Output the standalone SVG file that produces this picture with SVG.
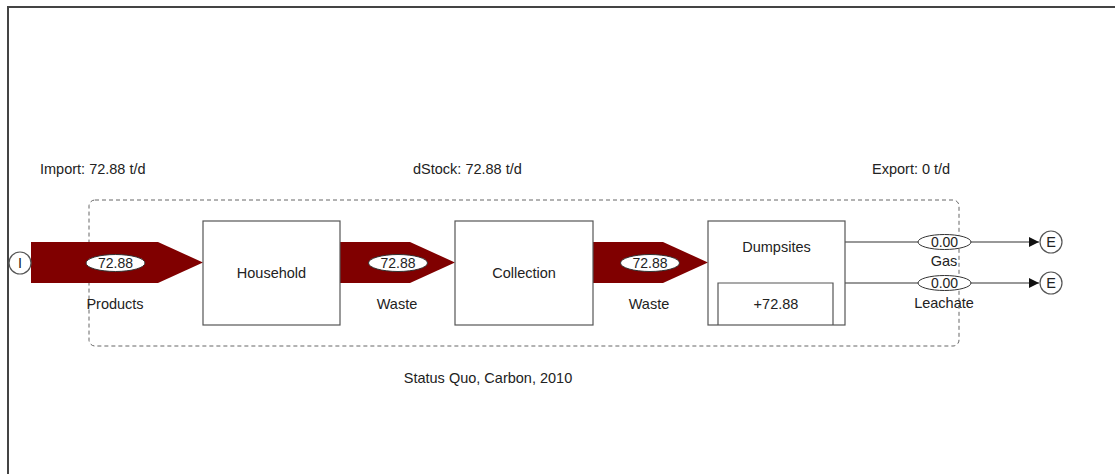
<svg xmlns="http://www.w3.org/2000/svg" width="1115" height="474" viewBox="0 0 1115 474">
<defs>
<style>
text{font-family:"Liberation Sans",Arial,sans-serif;font-size:14.5px;fill:#222;text-anchor:middle}
.lbl{text-anchor:start}
.v{font-size:14px}
.box{fill:#fff;stroke:#555;stroke-width:1.2}
.flow{fill:#800000;stroke:none}
.val{fill:#fff;stroke:#333;stroke-width:1}
.line{stroke:#333;stroke-width:1.2;fill:none}
.term{fill:#fff;stroke:#555;stroke-width:1.2}
</style>
<marker id="arr" viewBox="0 0 10 10" refX="10" refY="5" markerWidth="10" markerHeight="10" markerUnits="userSpaceOnUse" orient="auto">
<path d="M0,0 L10,5 L0,10 Z" fill="#111"/>
</marker>
</defs>
<rect width="1115" height="474" fill="#fff"/>
<path d="M8,474 L8,7 L1115,7" fill="none" stroke="#444" stroke-width="2"/>
<g id="texts">
<text class="lbl" x="40" y="174">Import: 72.88 t/d</text>
<text class="lbl" x="413" y="174">dStock: 72.88 t/d</text>
<text class="lbl" x="872" y="174">Export: 0 t/d</text>
<text x="488" y="383">Status Quo, Carbon, 2010</text>
</g>
<g id="boundary">
<rect x="89" y="200" width="870" height="146" rx="6" ry="6" fill="none" stroke="#666" stroke-width="1" stroke-dasharray="4,3"/>
</g>
<g id="connectors">
<g id="flow-products">
<path class="flow" d="M31,242 L158,242 L203,262.5 L158,283 L31,283 Z"/>
<ellipse class="val" cx="115.5" cy="263" rx="29.5" ry="8.5"/>
<text class="v" x="115.5" y="268">72.88</text>
<text x="115" y="309">Products</text>
</g>
<g id="flow-waste1">
<path class="flow" d="M340,242 L410,242 L455,262.5 L410,283 L340,283 Z"/>
<ellipse class="val" cx="398" cy="263" rx="29.5" ry="8.5"/>
<text class="v" x="398" y="268">72.88</text>
<text x="397" y="309">Waste</text>
</g>
<g id="flow-waste2">
<path class="flow" d="M593,242 L663,242 L708,262.5 L663,283 L593,283 Z"/>
<ellipse class="val" cx="650" cy="263" rx="29.5" ry="8.5"/>
<text class="v" x="650" y="268">72.88</text>
<text x="649" y="309">Waste</text>
</g>
<g id="flow-gas">
<line class="line" x1="845" y1="242" x2="1039" y2="242" marker-end="url(#arr)"/>
<ellipse class="val" cx="944.5" cy="242" rx="26.5" ry="7.5"/>
<text class="v" x="944.5" y="247">0.00</text>
<text x="944" y="266">Gas</text>
</g>
<g id="flow-leachate">
<line class="line" x1="845" y1="283" x2="1039" y2="283" marker-end="url(#arr)"/>
<ellipse class="val" cx="944.5" cy="283" rx="26.5" ry="7.5"/>
<text class="v" x="944.5" y="288">0.00</text>
<text x="944" y="308">Leachate</text>
</g>
</g>
<g id="import-I">
<circle class="term" cx="20" cy="263" r="11"/>
<text x="20" y="268">I</text>
</g>
<g id="household">
<rect class="box" x="203" y="221" width="137" height="104"/>
<text x="271.5" y="278">Household</text>
</g>
<g id="collection">
<rect class="box" x="455" y="221" width="138" height="104"/>
<text x="524" y="278">Collection</text>
</g>
<g id="dumpsites">
<rect class="box" x="708" y="221" width="137" height="104"/>
<path d="M718,325 L718,283 L833,283 L833,325" fill="none" stroke="#555" stroke-width="1.2"/>
<text x="776.5" y="252">Dumpsites</text>
<text x="776" y="309">+72.88</text>
</g>
<g id="export-E1">
<circle class="term" cx="1051" cy="242" r="11"/>
<text x="1051" y="247">E</text>
</g>
<g id="export-E2">
<circle class="term" cx="1051" cy="283" r="11"/>
<text x="1051" y="288">E</text>
</g>
</svg>
